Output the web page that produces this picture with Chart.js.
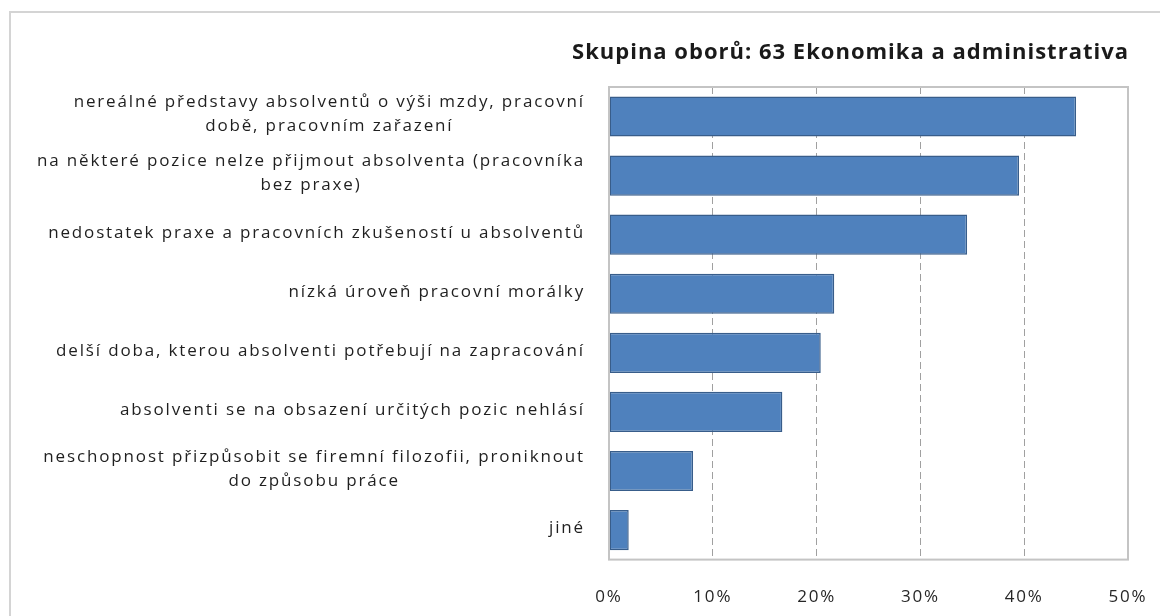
<!DOCTYPE html>
<html>
<head>
<meta charset="utf-8">
<title>Skupina oborů: 63 Ekonomika a administrativa</title>
<script src="https://cdn.jsdelivr.net/npm/chart.js"></script>
<style>
  html, body { margin: 0; padding: 0; background: #fff; overflow: hidden; }
  #frame { position: absolute; left: 9px; top: 11px; width: 1300px; height: 800px; border: 2px solid #d4d4d4; }
  #wrap { position: absolute; left: 0; top: 0; width: 1160px; height: 616px; }
</style>
</head>
<body>
<div id="frame"></div>
<div id="wrap"><canvas id="myChart" width="1160" height="616"></canvas></div>
<script>
const chartTitle = "Skupina oborů: 63 Ekonomika a administrativa";
const categories = [
  ["nereálné představy absolventů o výši mzdy, pracovní", "době, pracovním zařazení"],
  ["na některé pozice nelze přijmout absolventa (pracovníka", "bez praxe)"],
  ["nedostatek praxe a pracovních zkušeností u absolventů"],
  ["nízká úroveň pracovní morálky"],
  ["delší doba, kterou absolventi potřebují na zapracování"],
  ["absolventi se na obsazení určitých pozic nehlásí"],
  ["neschopnost přizpůsobit se firemní filozofii, proniknout", "do způsobu práce"],
  ["jiné"]
];
const values = [45.0, 39.5, 34.5, 21.7, 20.4, 16.7, 8.1, 1.9];
const xTicks = [0, 10, 20, 30, 40, 50];

// wider letter spacing for the axis tick text (old GDI look)
const spacing = {
  id: "spacing",
  beforeDraw(chart) { chart.ctx.letterSpacing = "1.8px"; }
};

// title and category labels, drawn by hand
const texts = {
  id: "texts",
  afterDraw(chart) {
    const ctx = chart.ctx;
    const a = chart.chartArea;
    const y = chart.scales.y;
    ctx.save();
    ctx.fillStyle = "#1a1a1a";
    ctx.textBaseline = "middle";
    ctx.textAlign = "right";
    ctx.letterSpacing = "1px";
    ctx.font = "bold 22px 'Open Sans'";
    ctx.fillText(chartTitle, a.right + 1, 53);

    const right = a.left - 24;
    ctx.font = "17px 'Open Sans'";
    ctx.letterSpacing = "1.85px";
    ctx.fillStyle = "#1f1f1f";
    ctx.textAlign = "center";
    categories.forEach((lines, i) => {
      const w = Math.max(...lines.map((l) => ctx.measureText(l).width));
      const cx = right - w / 2;
      const cy = y.getPixelForValue(i) - 2;
      const lh = 24;
      lines.forEach((l, j) => {
        ctx.fillText(l, cx, cy + (j - (lines.length - 1) / 2) * lh);
      });
    });
    ctx.restore();
  }
};

// plot frame
const plotFrame = {
  id: "plotFrame",
  afterDatasetsDraw(chart) {
    const a = chart.chartArea;
    const ctx = chart.ctx;
    ctx.save();
    ctx.strokeStyle = "#c4c4c4";
    ctx.lineWidth = 2;
    ctx.strokeRect(a.left, a.top, a.right - a.left, a.bottom - a.top);
    ctx.restore();
  }
};

new Chart(document.getElementById("myChart"), {
  type: "bar",
  data: {
    labels: categories,
    datasets: [{
      label: "podíl",
      data: values,
      backgroundColor: "#4f81bd",
      borderColor: "#385d8a",
      borderWidth: 1.5,
      borderSkipped: false,
      barPercentage: 0.68,
      categoryPercentage: 1
    }]
  },
  options: {
    indexAxis: "y",
    responsive: false,
    animation: false,
    layout: { padding: { left: 609, right: 32, top: 87, bottom: 5 } },
    plugins: {
      legend: { display: false },
      tooltip: { enabled: false },
      title: { display: false }
    },
    scales: {
      x: {
        min: 0,
        max: 50,
        afterBuildTicks: (s) => { s.ticks = xTicks.map((v) => ({ value: v })); },
        ticks: {
          callback: (v) => v + "%",
          color: "#262626",
          font: { family: "'Open Sans'", size: 17 },
          padding: 4
        },
        grid: { color: "#a0a0a0", lineWidth: 1, drawTicks: true, tickLength: 23, tickColor: "rgba(0,0,0,0)" },
        border: { display: false, dash: [7, 4] }
      },
      y: {
        display: false
      }
    }
  },
  plugins: [spacing, texts, plotFrame]
});
</script>
</body>
</html>
